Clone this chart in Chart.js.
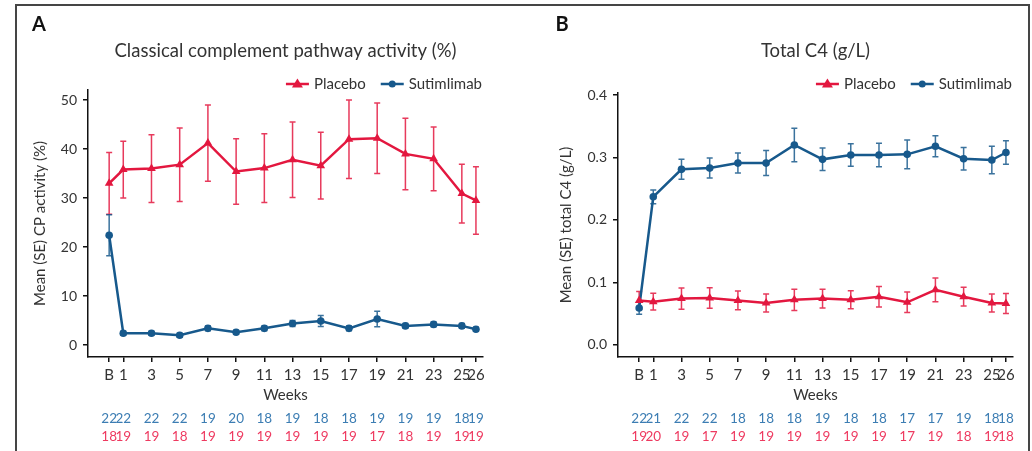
<!DOCTYPE html>
<html lang="en">
<head>
    <meta charset="UTF-8">
    <title>Complement activity and C4</title>
    <script src="https://cdn.jsdelivr.net/npm/chart.js"></script>
    <style>
        body { margin: 0; background: #fff; width: 1032px; height: 451px; overflow: hidden; position: relative; }
        #frame { position: absolute; left: 15px; top: 4px; width: 1011px; height: 500px; border: 2px solid #454545; }
        canvas { position: absolute; top: 0; }
    </style>
</head>
<body>
    <div id="frame"></div>
    <canvas id="cpChart" width="499" height="451" style="left:17px"></canvas>
    <canvas id="c4Chart" width="512" height="451" style="left:516px"></canvas>

    <script>
        // weeks (B = baseline = week 0)
        const weeks = [0, 1, 3, 5, 7, 9, 11, 13, 15, 17, 19, 21, 23, 25, 26];
        const weekLabels = ['B', '1', '3', '5', '7', '9', '11', '13', '15', '17', '19', '21', '23', '25', '26'];

        // Panel A - classical complement pathway activity (%)
        const cpPlacebo = [33.0, 35.8, 36.0, 36.8, 41.2, 35.4, 36.1, 37.8, 36.6, 42.0, 42.2, 39.0, 38.0, 30.9, 29.5];
        const cpPlaceboSE = [6.3, 5.8, 6.9, 7.5, 7.8, 6.7, 7.0, 7.7, 6.8, 8.0, 7.2, 7.3, 6.5, 6.0, 6.9];
        const cpSutim = [22.4, 2.4, 2.4, 2.0, 3.4, 2.6, 3.4, 4.4, 4.9, 3.4, 5.3, 3.9, 4.2, 3.9, 3.2];
        const cpSutimSE = [4.2, 0.4, 0.4, 0.4, 0.5, 0.4, 0.5, 0.6, 1.1, 0.5, 1.6, 0.5, 0.5, 0.5, 0.4];
        const cpNSutim = [22, 22, 22, 22, 19, 20, 18, 19, 18, 18, 19, 19, 19, 18, 19];
        const cpNPlacebo = [18, 19, 19, 18, 19, 19, 19, 19, 19, 19, 17, 18, 19, 19, 19];
        const cpTicks = [0, 10, 20, 30, 40, 50];

        // Panel B - total C4 (g/L)
        const c4Placebo = [0.071, 0.069, 0.074, 0.075, 0.071, 0.067, 0.072, 0.074, 0.072, 0.077, 0.068, 0.088, 0.077, 0.067, 0.066];
        const c4PlaceboSE = [0.0145, 0.0135, 0.017, 0.0165, 0.015, 0.0145, 0.017, 0.015, 0.0145, 0.0165, 0.0165, 0.019, 0.015, 0.0145, 0.016];
        const c4Sutim = [0.059, 0.237, 0.281, 0.283, 0.291, 0.291, 0.320, 0.297, 0.304, 0.304, 0.305, 0.318, 0.298, 0.296, 0.308];
        const c4SutimSE = [0.010, 0.011, 0.016, 0.016, 0.016, 0.020, 0.027, 0.018, 0.018, 0.019, 0.023, 0.017, 0.018, 0.022, 0.019];
        const c4NSutim = [22, 21, 22, 22, 18, 18, 18, 19, 18, 18, 17, 17, 19, 18, 18];
        const c4NPlacebo = [19, 20, 19, 17, 19, 19, 19, 19, 19, 19, 17, 19, 18, 19, 18];
        const c4Ticks = [0, 0.1, 0.2, 0.3, 0.4];

        const RED = '#e3173f';
        const BLUE = '#17598c';
        const TEXT = '#333';

        Chart.defaults.font.family = 'Lato, "Open Sans", sans-serif';
        Chart.defaults.color = TEXT;

        const toPoints = vals => weeks.map((w, i) => ({ x: w, y: vals[i] }));

        // vertical SE bars with small caps, drawn under the lines
        const errorBars = {
            id: 'errorBars',
            beforeDatasetsDraw(chart) {
                const { ctx, scales: { x, y } } = chart;
                chart.data.datasets.forEach(ds => {
                    ctx.save();
                    ctx.strokeStyle = ds.borderColor;
                    ctx.globalAlpha = 0.85;
                    ctx.lineWidth = 1.5;
                    ds.se.forEach((se, i) => {
                        const px = x.getPixelForValue(weeks[i]);
                        const top = y.getPixelForValue(ds.data[i].y + se);
                        const bot = y.getPixelForValue(ds.data[i].y - se);
                        ctx.beginPath();
                        ctx.moveTo(px, top); ctx.lineTo(px, bot);
                        ctx.moveTo(px - 3, top); ctx.lineTo(px + 3, top);
                        ctx.moveTo(px - 3, bot); ctx.lineTo(px + 3, bot);
                        ctx.stroke();
                    });
                    ctx.restore();
                });
            }
        };

        // panel letter, title, legend and the n rows below the axis
        const panelDecor = {
            id: 'panelDecor',
            afterDraw(chart, args, opts) {
                const { ctx, chartArea, scales: { x } } = chart;
                const cx = (chartArea.left + chartArea.right) / 2;
                ctx.save();
                ctx.fillStyle = '#111';
                ctx.font = 'bold 20px Lato, sans-serif';
                ctx.textAlign = 'center';
                ctx.textBaseline = 'middle';
                ctx.fillText(opts.letter, opts.letterX, 25);

                ctx.fillStyle = TEXT;
                ctx.font = '18.5px Lato, sans-serif';
                ctx.fillText(opts.title, cx, 51);

                // legend
                ctx.font = '15px Lato, sans-serif';
                const items = [
                    { label: 'Placebo', color: RED, style: 'triangle' },
                    { label: 'Sutimlimab', color: BLUE, style: 'circle' }
                ];
                const lineW = 23, gap = 5, itemGap = 15;
                let total = 0;
                items.forEach((it, i) => {
                    it.w = lineW + gap + ctx.measureText(it.label).width;
                    total += it.w + (i ? itemGap : 0);
                });
                let lx = chartArea.right - 1 - total;
                const ly = 84;
                items.forEach(it => {
                    ctx.strokeStyle = it.color;
                    ctx.fillStyle = it.color;
                    ctx.lineWidth = 2.5;
                    ctx.beginPath();
                    ctx.moveTo(lx, ly); ctx.lineTo(lx + lineW, ly);
                    ctx.stroke();
                    const mx = lx + lineW / 2;
                    ctx.beginPath();
                    if (it.style === 'circle') {
                        ctx.arc(mx, ly, 3.5, 0, Math.PI * 2);
                    } else {
                        ctx.moveTo(mx, ly - 5.5); ctx.lineTo(mx + 5.5, ly + 3.5); ctx.lineTo(mx - 5.5, ly + 3.5);
                        ctx.closePath();
                    }
                    ctx.fill();
                    ctx.fillStyle = TEXT;
                    ctx.textAlign = 'left';
                    ctx.fillText(it.label, lx + lineW + gap, ly);
                    lx += it.w + itemGap;
                });

                // numbers at risk
                ctx.textAlign = 'center';
                ctx.font = '13.5px Lato, sans-serif';
                weeks.forEach((w, i) => {
                    const px = x.getPixelForValue(w);
                    ctx.fillStyle = '#3c7db3';
                    ctx.fillText(String(opts.nTop[i]), px, 419);
                    ctx.fillStyle = '#ee3a60';
                    ctx.fillText(String(opts.nBottom[i]), px, 437);
                });
                ctx.restore();
            }
        };

        function makeChart(id, cfg) {
            return new Chart(document.getElementById(id), {
                type: 'line',
                data: {
                    datasets: [{
                        label: 'Placebo',
                        data: toPoints(cfg.placebo),
                        se: cfg.placeboSE,
                        borderColor: RED,
                        backgroundColor: RED,
                        borderWidth: 2.5,
                        pointStyle: 'triangle',
                        pointRadius: 5,
                        pointBorderWidth: 0,
                        tension: 0
                    }, {
                        label: 'Sutimlimab',
                        data: toPoints(cfg.sutim),
                        se: cfg.sutimSE,
                        borderColor: BLUE,
                        backgroundColor: BLUE,
                        borderWidth: 2.5,
                        pointStyle: 'circle',
                        pointRadius: 3.8,
                        pointBorderWidth: 0,
                        tension: 0
                    }]
                },
                options: {
                    responsive: false,
                    animation: false,
                    layout: { padding: { top: cfg.padTop, right: cfg.padRight, left: 0, bottom: 0 } },
                    plugins: {
                        legend: { display: false },
                        tooltip: { enabled: false },
                        panelDecor: cfg.decor
                    },
                    scales: {
                        x: {
                            type: 'linear',
                            min: -1.5,
                            max: 26.5,
                            afterFit: s => { s.height = 94; },
                            afterBuildTicks: s => { s.ticks = weeks.map(v => ({ value: v })); },
                            ticks: {
                                autoSkip: false,
                                maxRotation: 0,
                                padding: 4,
                                color: TEXT,
                                font: { size: 15 },
                                callback: v => weekLabels[weeks.indexOf(v)]
                            },
                            grid: { drawOnChartArea: false, drawTicks: true, tickLength: 5, color: '#111', lineWidth: 1.5 },
                            border: { color: '#111', width: 1.5 },
                            title: { display: true, text: 'Weeks', color: TEXT, font: { size: 15 }, padding: { top: 0, bottom: 47 } }
                        },
                        y: {
                            min: cfg.yMin,
                            max: cfg.yMax,
                            afterFit: s => { s.width = cfg.yWidth; },
                            afterBuildTicks: s => { s.ticks = cfg.yTicks.map(v => ({ value: v })); },
                            ticks: {
                                padding: 6,
                                color: TEXT,
                                font: { size: 14 },
                                callback: cfg.yFormat
                            },
                            grid: { drawOnChartArea: false, drawTicks: true, tickLength: 5, color: '#111', lineWidth: 1.5 },
                            border: { color: '#111', width: 1.5 },
                            title: { display: true, text: cfg.yTitle, color: TEXT, font: { size: 15 }, padding: { top: cfg.yTitlePad, bottom: 0 } }
                        }
                    }
                },
                plugins: [errorBars, panelDecor]
            });
        }

        makeChart('cpChart', {
            placebo: cpPlacebo, placeboSE: cpPlaceboSE,
            sutim: cpSutim, sutimSE: cpSutimSE,
            yMin: -2.45, yMax: 52.04, yTicks: cpTicks,
            yFormat: v => String(v),
            yTitle: 'Mean (SE) CP activity (%)',
            yWidth: 71, yTitlePad: 14,
            padTop: 90, padRight: 33,
            decor: { letter: 'A', letterX: 22, title: 'Classical complement pathway activity (%)', nTop: cpNSutim, nBottom: cpNPlacebo }
        });

        makeChart('c4Chart', {
            placebo: c4Placebo, placeboSE: c4PlaceboSE,
            sutim: c4Sutim, sutimSE: c4SutimSE,
            yMin: -0.0196, yMax: 0.4033, yTicks: c4Ticks,
            yFormat: v => v.toFixed(1),
            yTitle: 'Mean (SE) total C4 (g/L)',
            yWidth: 102, yTitlePad: 41.5,
            padTop: 93, padRight: 15,
            decor: { letter: 'B', letterX: 46, title: 'Total C4 (g/L)', nTop: c4NSutim, nBottom: c4NPlacebo }
        });
    </script>
</body>
</html>
